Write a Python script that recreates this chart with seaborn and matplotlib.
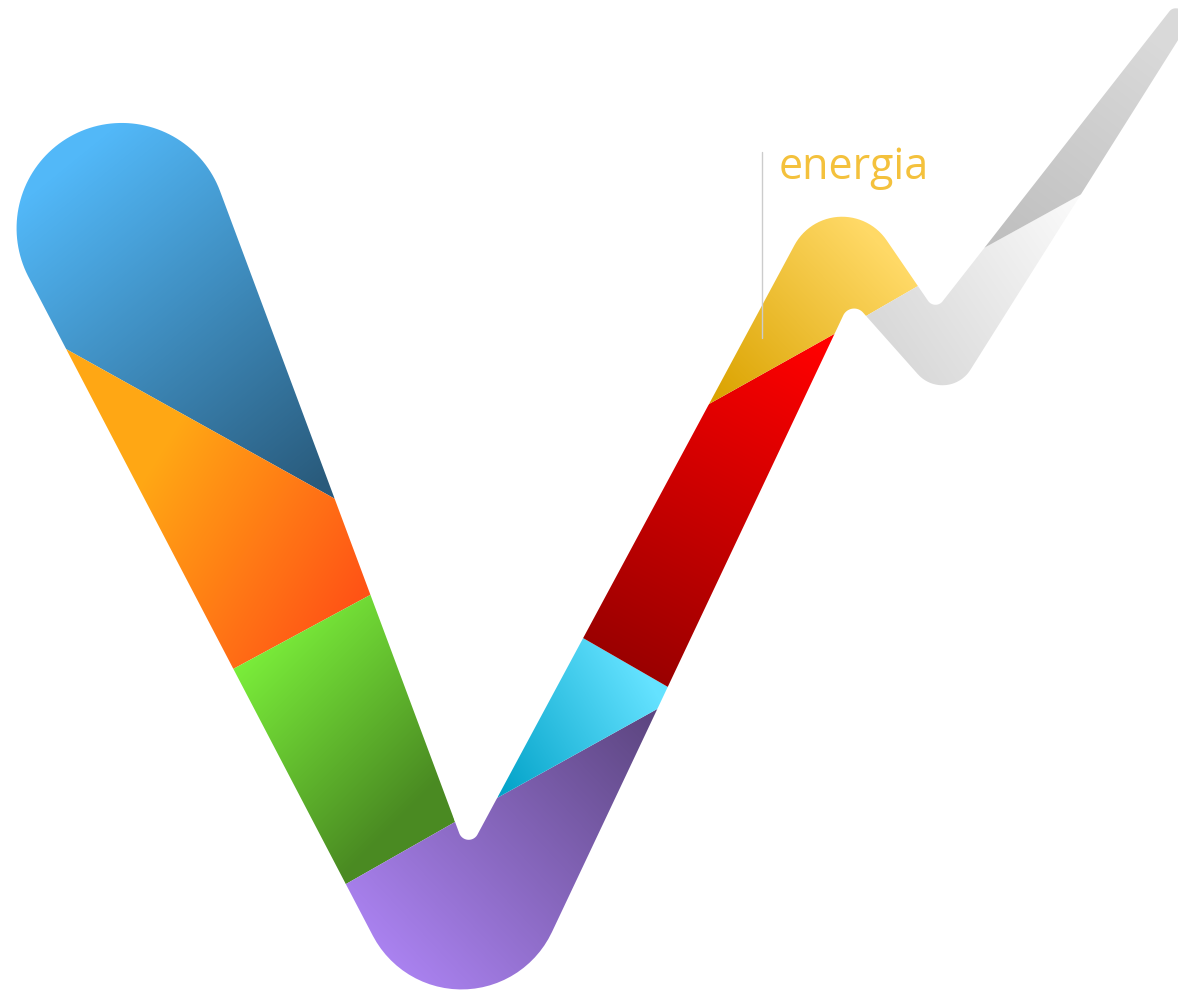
import numpy as np
import matplotlib
matplotlib.use("Agg")
import matplotlib.pyplot as plt
from matplotlib.path import Path
from matplotlib.patches import PathPatch
import seaborn as sns

sns.set_theme(style="white")
plt.rcParams['font.family'] = ['Open Sans', 'DejaVu Sans']

W, H = 1178, 994

# Contorno del logo en pixeles (y hacia abajo) y radio de redondeo de cada esquina
esquinas = [(28, 276), (466, 1114), (851, 299), (947, 407), (1197, 10),
            (1172, 8), (935, 311), (836.5, 167), (467, 854), (220, 191)]
radios = [0, 100, 12, 33, 0, 8, 9, 54, 10, 0]
centro_tapa = (122, 228)

# Cortes entre franjas de color (punto a, punto b) y cuanto se estiran hacia afuera
cortes = {
    'c1': [(66, 349), (337, 500)],
    'c2': [(235, 668), (372, 594)],
    'c3': [(346, 884), (455, 822)],
    'c4': [(497, 798), (659, 708)],
    'c5': [(583, 638), (668, 687)],
    'c6': [(709, 404), (836, 333)],
    'c7': [(866, 316), (918, 286)],
    'c8': [(984, 248), (1080, 195)],
}
estirar = {'c1': (25, 25), 'c2': (25, 25), 'c3': (25, 0), 'c4': (0, 12),
           'c5': (25, 12), 'c6': (25, 0), 'c7': (0, 10), 'c8': (0, 25)}

# Franjas: colores del degradado y puntos donde empieza y termina
franjas = ['azul', 'naranja', 'verde', 'violeta', 'celeste', 'rojo',
           'amarillo', 'gris_claro', 'gris_oscuro']
color_ini = ['#52b8f8', '#ffa714', '#7ef53c', '#aa82f0', '#02a2c8', '#ff0000',
             '#dba300', '#d9d9d9', '#bfbfbf']
color_fin = ['#295a7b', '#ff5316', '#4a8a22', '#5d4681', '#64e2ff', '#960000',
             '#ffd966', '#fafafa', '#d9d9d9']
grad_ini = [(60, 170), (150, 470), (250, 630), (390, 960), (500, 795),
            (820, 345), (715, 400), (880, 330), (995, 245)]
grad_fin = [(320, 490), (360, 600), (420, 800), (650, 715), (660, 700),
            (640, 690), (880, 245), (1075, 200), (1150, 40)]

texto = 'energia'
color_texto = '#f4c13c'


def extender(p, q, ea, eb):
    p, q = np.array(p, float), np.array(q, float)
    u = (q - p) / np.linalg.norm(q - p)
    return tuple(p - ea * u), tuple(q + eb * u)


def redondeo(a, v, b, r, n=30):
    a, v, b = (np.array(x, float) for x in (a, v, b))
    u1 = (a - v) / np.linalg.norm(a - v)
    u2 = (b - v) / np.linalg.norm(b - v)
    ang = np.arccos(np.clip(u1 @ u2, -1, 1))
    bis = (u1 + u2) / np.linalg.norm(u1 + u2)
    c = v + bis * r / np.sin(ang / 2)
    t = r / np.tan(ang / 2)
    p1, p2 = v + u1 * t, v + u2 * t
    a1 = np.arctan2(p1[1] - c[1], p1[0] - c[0])
    a2 = np.arctan2(p2[1] - c[1], p2[0] - c[0])
    d = (a2 - a1 + np.pi) % (2 * np.pi) - np.pi
    th = a1 + np.linspace(0, 1, n) * d
    return list(zip(c[0] + r * np.cos(th), c[1] + r * np.sin(th)))


# armo el contorno completo
contorno = []
k = len(esquinas)
for i in range(k):
    if radios[i] == 0:
        contorno.append(esquinas[i])
    else:
        contorno += redondeo(esquinas[i - 1], esquinas[i], esquinas[(i + 1) % k], radios[i])

# tapa redonda: del ultimo punto al primero pasando por arriba
cx, cy = centro_tapa
pf, p0 = np.array(esquinas[-1]) - centro_tapa, np.array(esquinas[0]) - centro_tapa
a_ini = np.arctan2(pf[1], pf[0])
a_fin = np.arctan2(p0[1], p0[0]) - 2 * np.pi
th = np.linspace(a_ini, a_fin, 80)[1:-1]
rr = np.linspace(np.hypot(*pf), np.hypot(*p0), 80)[1:-1]
contorno += list(zip(cx + rr * np.cos(th), cy + rr * np.sin(th)))
contorno = np.array(contorno)

# poligonos de recorte de cada franja
c = {n: extender(p, q, *estirar[n]) for n, (p, q) in cortes.items()}
poligonos = {
    'azul': [c['c1'][0], c['c1'][1], (330, 60), (-60, 60)],
    'naranja': [c['c1'][0], c['c1'][1], c['c2'][1], c['c2'][0]],
    'verde': [c['c2'][0], c['c2'][1], c['c3'][1], c['c3'][0]],
    'violeta': [c['c3'][0], c['c3'][1], c['c4'][0], c['c4'][1], (720, 760), (620, 1060), (300, 1060)],
    'celeste': [c['c4'][0], c['c4'][1], c['c5'][1], c['c5'][0]],
    'rojo': [c['c5'][0], c['c5'][1], c['c6'][1], c['c6'][0]],
    'amarillo': [c['c6'][0], c['c6'][1], c['c7'][0], c['c7'][1], (960, 230), (850, 140), (700, 300)],
    'gris_claro': [c['c7'][0], (930, 450), c['c8'][1], c['c8'][0], c['c7'][1]],
    'gris_oscuro': [c['c8'][0], c['c8'][1], (1260, 60), (1220, -60), (1100, -60)],
}

fig = plt.figure(figsize=(W / 100, H / 100), dpi=100)
ax = fig.add_axes([0, 0, 1, 1])
ax.set_xlim(0, W)
ax.set_ylim(H, 0)
ax.axis('off')

X, Y = np.meshgrid(np.arange(W) + 0.5, np.arange(H) + 0.5)
for i, nombre in enumerate(franjas):
    (x0, y0), (x1, y1) = grad_ini[i], grad_fin[i]
    dx, dy = x1 - x0, y1 - y0
    t = np.clip(((X - x0) * dx + (Y - y0) * dy) / (dx * dx + dy * dy), 0, 1)
    cmap = sns.blend_palette([color_ini[i], color_fin[i]], n_colors=256, as_cmap=True)
    img = ax.imshow(t, cmap=cmap, vmin=0, vmax=1, extent=(0, W, H, 0),
                    interpolation='nearest', zorder=1)
    parche = PathPatch(Path(np.array(poligonos[nombre], float), closed=False),
                       transform=ax.transData, facecolor='none', edgecolor='none')
    img.set_clip_path(parche)

# mascara blanca: un rectangulo grande con el logo como agujero
def area(p):
    x, y = p[:, 0], p[:, 1]
    return 0.5 * np.sum(x * np.roll(y, -1) - np.roll(x, -1) * y)

marco = np.array([(-200, -200), (W + 200, -200), (W + 200, H + 200), (-200, H + 200)], float)
agujero = contorno if np.sign(area(contorno)) != np.sign(area(marco)) else contorno[::-1]
verts = np.vstack([marco, marco[:1], agujero, agujero[:1]])
codes = ([Path.MOVETO] + [Path.LINETO] * (len(marco) - 1) + [Path.CLOSEPOLY] +
         [Path.MOVETO] + [Path.LINETO] * (len(agujero) - 1) + [Path.CLOSEPOLY])
ax.add_patch(PathPatch(Path(verts, codes), facecolor='white', edgecolor='none', zorder=2))

# linea fina y texto
ax.plot([762, 762], [152, 338], color='#cccccc', lw=1, zorder=3)
ax.text(779, 179, texto, fontsize=31, color=color_texto, ha='left', va='baseline', zorder=3)

fig.savefig('out.png', dpi=100, facecolor='white')
